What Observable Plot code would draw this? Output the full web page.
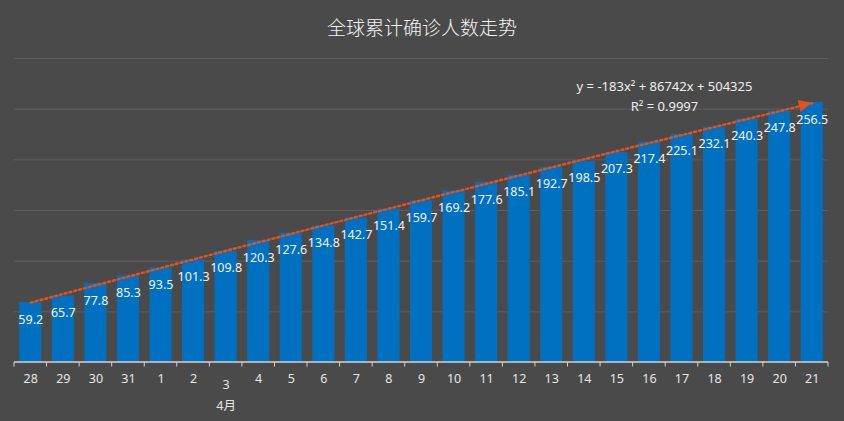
<!DOCTYPE html>
<html>
<head>
<meta charset="utf-8">
<script src="https://cdn.jsdelivr.net/npm/d3@7"></script>
<script src="https://cdn.jsdelivr.net/npm/@observablehq/plot@0.6"></script>
<style>
  html, body { margin: 0; padding: 0; background: #4a4a4a; }
  #wrap { width: 844px; height: 421px; overflow: hidden; }
  #title { box-sizing: border-box; height: 45px; padding-top: 15px; line-height: 24px; font-size: 19px;
    text-align: center; color: #f2f2f2; font-family: "Noto Sans CJK SC", "Noto Sans", sans-serif; font-weight: 300; }
</style>
</head>
<body>
<div id="wrap">
  <div id="title">全球累计确诊人数走势</div>
  <div id="chart"></div>
</div>
<script>
const categories = ["28","29","30","31","1","2","3","4","5","6","7","8","9","10","11","12","13","14","15","16","17","18","19","20","21"];
const values = [59.2,65.7,77.8,85.3,93.5,101.3,109.8,120.3,127.6,134.8,142.7,151.4,159.7,169.2,177.6,185.1,192.7,198.5,207.3,217.4,225.1,232.1,240.3,247.8,256.5];
const gridValues = [50,100,150,200,250,300];
const trendCoefficients = [-183, 86742, 504325]; // y = a x^2 + b x + c, in persons
const trendUnit = 10000; // bars are in units of 10,000
const equationText = "y = -183x² + 86742x + 504325";
const r2Text = "R² = 0.9997";
const monthCategory = "3";
const monthLabel = "4月";

const data = categories.map((c, i) => ({cat: c, value: values[i]}));
const [ta, tb, tc] = trendCoefficients;
const trend = categories.map((c, i) => {
  const n = i + 1;
  return {cat: c, value: (ta * n * n + tb * n + tc) / trendUnit};
});

const font = "'Noto Sans', 'Noto Sans CJK SC', sans-serif";
const trendColor = "#e8501a";

function decor(index, scales) {
  const x = scales.x, y = scales.y;
  const bw = typeof x.bandwidth === "function" ? x.bandwidth() : (x.bandwidth ?? 0);
  const step = x(categories[1]) - x(categories[0]);
  const g = d3.create("svg:g");
  const y0 = y(0);
  const left = x(categories[0]) - (step - bw) / 2;
  const right = x(categories[categories.length - 1]) + bw + (step - bw) / 2;
  g.append("line").attr("x1", left).attr("x2", right).attr("y1", y0).attr("y2", y0)
    .attr("stroke", "#d4d4d4").attr("stroke-width", 1.3);
  for (let i = 0; i <= categories.length; i++) {
    const bx = left + i * step;
    g.append("line").attr("x1", bx).attr("x2", bx).attr("y1", y0).attr("y2", y0 + 4.5)
      .attr("stroke", "#d4d4d4").attr("stroke-width", 1);
  }
  // arrow head at end of trend line
  const n = trend.length;
  const px = x(trend[n - 1].cat) + bw / 2, py = y(trend[n - 1].value);
  const qx = x(trend[n - 2].cat) + bw / 2, qy = y(trend[n - 2].value);
  const ang = Math.atan2(py - qy, px - qx);
  const L = 13, W = 6;
  const bxp = px - L * Math.cos(ang), byp = py - L * Math.sin(ang);
  const nx = -Math.sin(ang), ny = Math.cos(ang);
  g.append("path")
    .attr("d", `M${px},${py}L${bxp + W * nx},${byp + W * ny}L${bxp - W * nx},${byp - W * ny}Z`)
    .attr("fill", trendColor);
  return g.node();
}

const chart = Plot.plot({
  width: 844,
  height: 376,
  marginTop: 13,
  marginBottom: 59,
  marginLeft: 14,
  marginRight: 16,
  style: {background: "#4a4a4a", color: "#e6e6e6", fontFamily: font, fontSize: "12px"},
  x: {domain: categories, paddingInner: 0.32, paddingOuter: 0.16, round: false, label: null},
  y: {domain: [0, 300], axis: null},
  marks: [
    Plot.ruleY(gridValues, {stroke: "#5f5f5f", strokeWidth: 1}),
    Plot.barY(data, {x: "cat", y: "value", fill: "#0070c0"}),
    Plot.line(trend, {x: "cat", y: "value", stroke: trendColor, strokeWidth: 2.5, strokeDasharray: "2 3"}),
    decor,
    Plot.text(data, {x: "cat", y: "value", text: d => d.value.toFixed(1), dy: 17, fill: "#f4f4f4", fontSize: 12.5}),
    Plot.axisX({tickSize: 0, tickPadding: 12, fontSize: 12.5, fill: "#e6e6e6", label: null,
      tickFormat: d => d === monthCategory ? "" : d}),
    Plot.text([monthCategory], {x: d => d, y: 0, text: d => d, dy: 22, fill: "#e6e6e6", fontSize: 12.5, lineAnchor: "middle"}),
    Plot.text([monthLabel], {x: () => monthCategory, y: 0, text: d => d, dy: 43, fill: "#e6e6e6", fontSize: 12.5, lineAnchor: "middle"}),
    Plot.text([equationText], {frameAnchor: "top", text: d => d, dx: 243, dy: 28, lineAnchor: "middle", fill: "#eeeeee", fontSize: 13}),
    Plot.text([r2Text], {frameAnchor: "top", text: d => d, dx: 243, dy: 48, lineAnchor: "middle", fill: "#eeeeee", fontSize: 13})
  ]
});
document.getElementById("chart").appendChild(chart);
</script>
</body>
</html>
